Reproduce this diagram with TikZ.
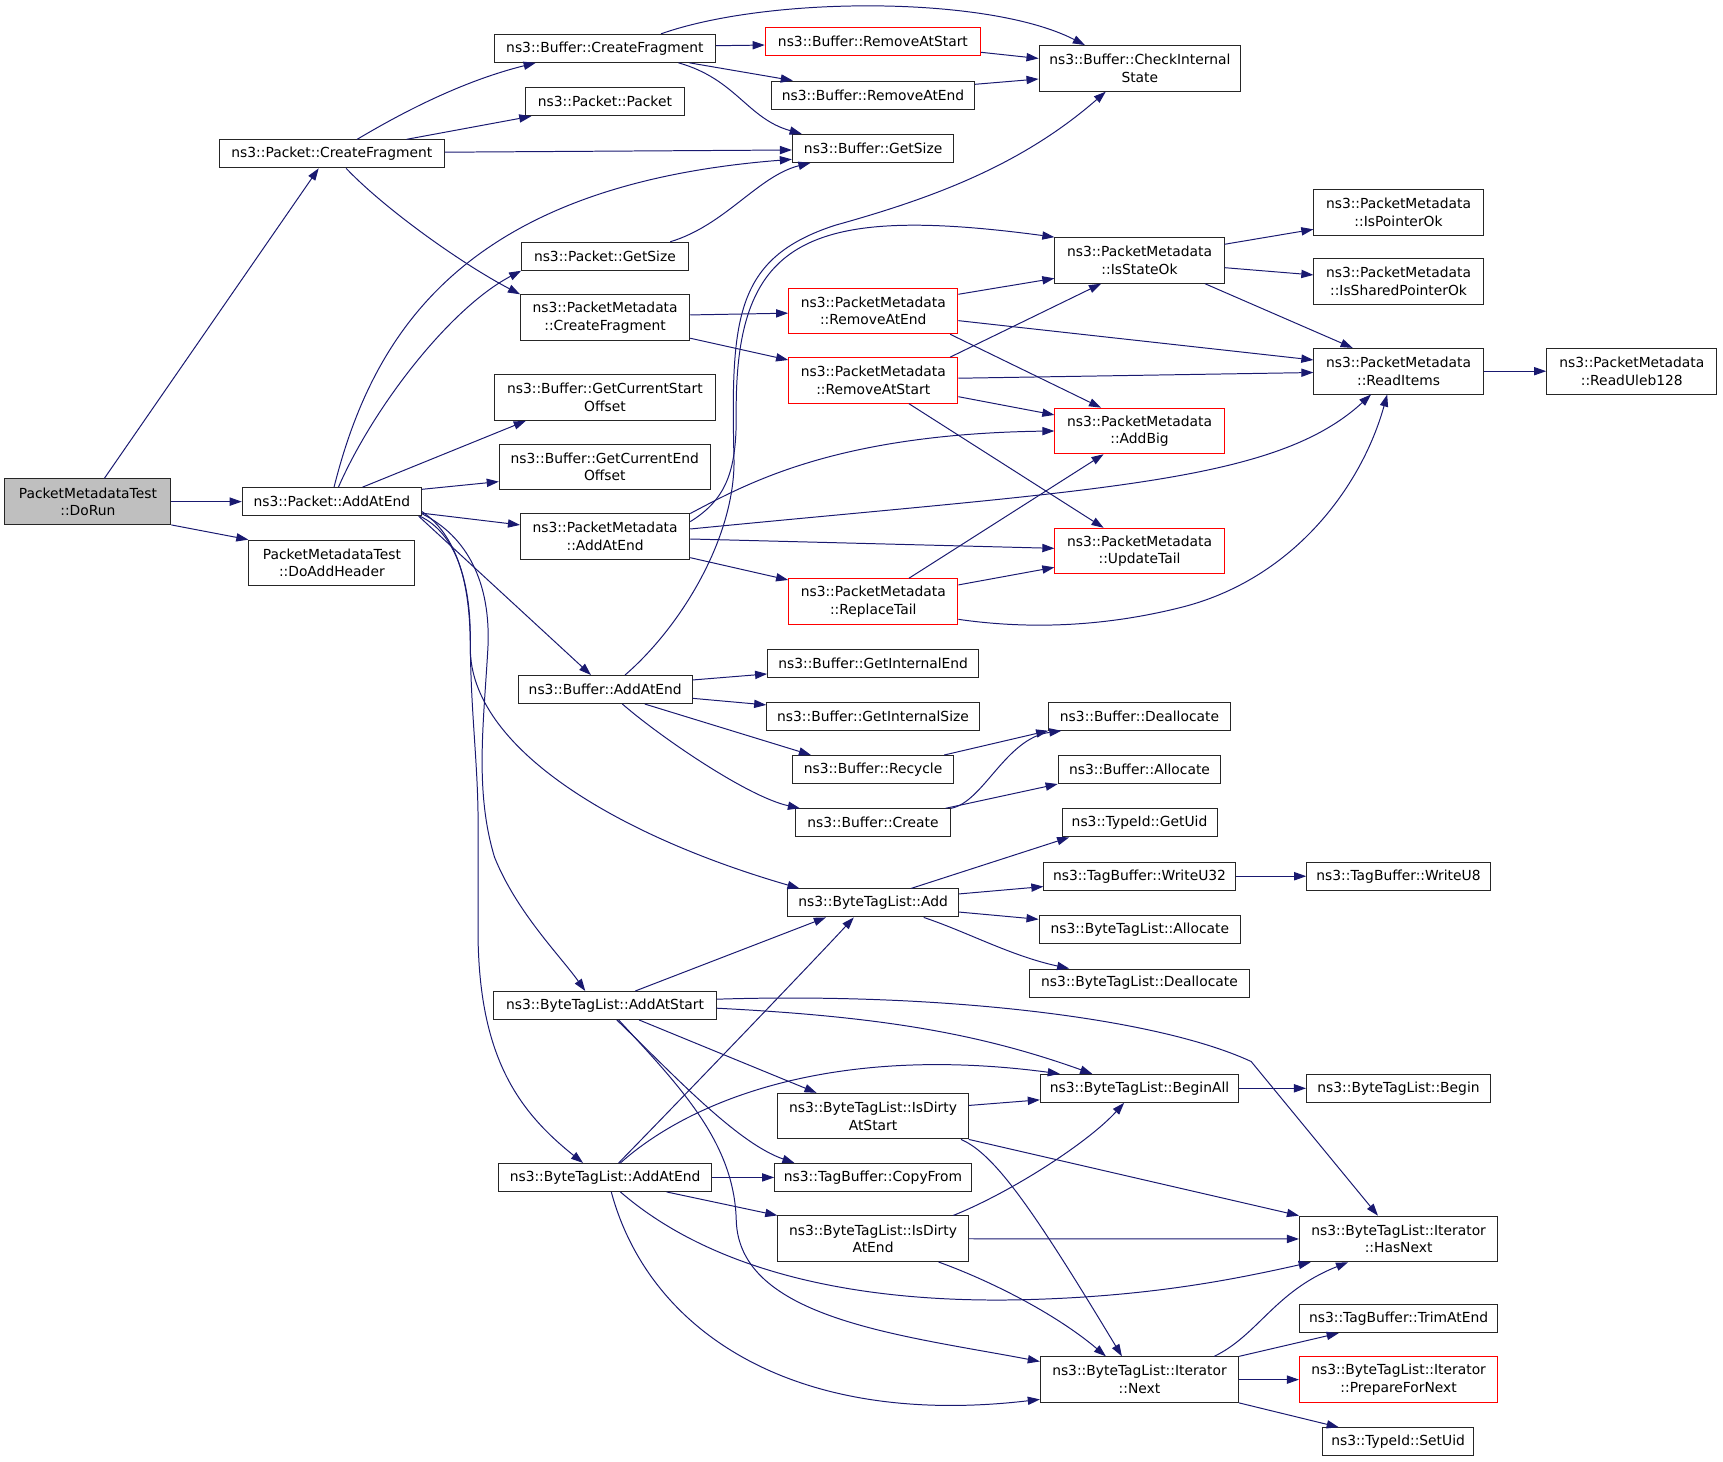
\documentclass[tikz,border=0pt]{standalone}
\usepackage{fontspec}
\setmainfont{DejaVu Sans}
\usetikzlibrary{arrows.meta}
\definecolor{edgeblue}{RGB}{25,25,112}
\definecolor{nodegray}{RGB}{191,191,191}
\tikzset{
  box/.style={draw=black!85, line width=0.9pt, fill=white, inner sep=0pt, align=center,
    font=\fontsize{12.6}{16}\selectfont, text=black},
  redbox/.style={box, draw=red},
  sz/.style 2 args={minimum width=#1pt, minimum height=#2pt},
  e/.style={draw=edgeblue, line width=0.9pt, -{Triangle[length=11pt,width=7.5pt]}},
}
\begin{document}
\begin{tikzpicture}[x=1pt,y=-1pt]
\useasboundingbox (0,0) rectangle (1568,1330);
% ---------------- nodes ----------------
\node[box,sz={151}{41.5},fill=nodegray] (dorun) at (80,456.5) {PacketMetadataTest\\::DoRun};
\node[box,sz={205}{25.5}] (pcf) at (302,140) {ns3::Packet::CreateFragment};
\node[box,sz={163}{25.5}] (paae) at (302,456.5) {ns3::Packet::AddAtEnd};
\node[box,sz={151}{41.5}] (dah) at (302,512.3) {PacketMetadataTest\\::DoAddHeader};
\node[box,sz={201}{25.5}] (bcf) at (550.5,44) {ns3::Buffer::CreateFragment};
\node[box,sz={145}{25.5}] (ppk) at (550.5,92.6) {ns3::Packet::Packet};
\node[redbox,sz={196}{25.5}] (brs) at (794.4,38) {ns3::Buffer::RemoveAtStart};
\node[box,sz={185}{25.5}] (brae) at (794.5,86.5) {ns3::Buffer::RemoveAtEnd};
\node[box,sz={183.4}{41.5}] (bcis) at (1037.3,62.2) {ns3::Buffer::CheckInternal\\State};
\node[box,sz={147}{25.5}] (bgs) at (794.6,135) {ns3::Buffer::GetSize};
\node[box,sz={151.5}{25.5}] (pgs) at (550.5,233.2) {ns3::Packet::GetSize};
\node[box,sz={154}{41.5}] (pmcf) at (550.7,289) {ns3::PacketMetadata\\::CreateFragment};
\node[redbox,sz={154}{41.5}] (pmrae) at (794.7,283) {ns3::PacketMetadata\\::RemoveAtEnd};
\node[redbox,sz={154}{41.5}] (pmras) at (794.7,346.2) {ns3::PacketMetadata\\::RemoveAtStart};
\node[box,sz={154}{41.5}] (pmiso) at (1037,237) {ns3::PacketMetadata\\::IsStateOk};
\node[box,sz={154}{41.5}] (pmipo) at (1272.7,193.3) {ns3::PacketMetadata\\::IsPointerOk};
\node[box,sz={154}{41.5}] (pmispo) at (1272.7,256) {ns3::PacketMetadata\\::IsSharedPointerOk};
\node[box,sz={154}{41.5}] (pmri) at (1272.7,337.8) {ns3::PacketMetadata\\::ReadItems};
\node[box,sz={155}{41.5}] (pmru) at (1485,337.8) {ns3::PacketMetadata\\::ReadUleb128};
\node[redbox,sz={154}{41.5}] (pmab) at (1037,392.2) {ns3::PacketMetadata\\::AddBig};
\node[box,sz={201}{41.5}] (bgcso) at (550.5,361.8) {ns3::Buffer::GetCurrentStart\\Offset};
\node[box,sz={192}{41.5}] (bgceo) at (550.4,425) {ns3::Buffer::GetCurrentEnd\\Offset};
\node[box,sz={154}{41.5}] (pmaae) at (550.7,488) {ns3::PacketMetadata\\::AddAtEnd};
\node[redbox,sz={154}{41.5}] (pmut) at (1037,501.5) {ns3::PacketMetadata\\::UpdateTail};
\node[redbox,sz={154}{41.5}] (pmrt) at (794.7,547.4) {ns3::PacketMetadata\\::ReplaceTail};
\node[box,sz={158}{25.5}] (baae) at (550.8,627.5) {ns3::Buffer::AddAtEnd};
\node[box,sz={192}{25.5}] (bgie) at (794.6,603.5) {ns3::Buffer::GetInternalEnd};
\node[box,sz={193.5}{25.5}] (bgis) at (794.5,652) {ns3::Buffer::GetInternalSize};
\node[box,sz={165.3}{25.5}] (bdea) at (1037,651.8) {ns3::Buffer::Deallocate};
\node[box,sz={147}{25.5}] (brec) at (794.5,700.3) {ns3::Buffer::Recycle};
\node[box,sz={148}{25.5}] (ball) at (1037,700.3) {ns3::Buffer::Allocate};
\node[box,sz={141}{25.5}] (bcre) at (794.5,748.8) {ns3::Buffer::Create};
\node[box,sz={141}{25.5}] (tgu) at (1037,748.8) {ns3::TypeId::GetUid};
\node[box,sz={174}{25.5}] (wu32) at (1037,797.4) {ns3::TagBuffer::WriteU32};
\node[box,sz={167}{25.5}] (wu8) at (1272.7,797.4) {ns3::TagBuffer::WriteU8};
\node[box,sz={155.5}{25.5}] (btadd) at (794.6,821.7) {ns3::ByteTagList::Add};
\node[box,sz={183.4}{25.5}] (btall) at (1037.3,845.8) {ns3::ByteTagList::Allocate};
\node[box,sz={200}{25.5}] (btdea) at (1037,894.6) {ns3::ByteTagList::Deallocate};
\node[box,sz={202.6}{25.5}] (btaas) at (550.6,915) {ns3::ByteTagList::AddAtStart};
\node[box,sz={180.5}{25.5}] (btba) at (1037,990.4) {ns3::ByteTagList::BeginAll};
\node[box,sz={167.4}{25.5}] (btb) at (1272.7,990.4) {ns3::ByteTagList::Begin};
\node[box,sz={173.3}{41.5}] (btidas) at (794.5,1015.7) {ns3::ByteTagList::IsDirty\\AtStart};
\node[box,sz={178.8}{25.5}] (tbcf) at (794.4,1071.5) {ns3::TagBuffer::CopyFrom};
\node[box,sz={193.2}{25.5}] (btaae) at (550.6,1071.5) {ns3::ByteTagList::AddAtEnd};
\node[box,sz={173.3}{41.5}] (btidae) at (794.5,1127.3) {ns3::ByteTagList::IsDirty\\AtEnd};
\node[box,sz={180.4}{41.5}] (bthn) at (1272.8,1127.5) {ns3::ByteTagList::Iterator\\::HasNext};
\node[box,sz={180}{25.5}] (tbtae) at (1272.8,1200) {ns3::TagBuffer::TrimAtEnd};
\node[box,sz={180.5}{41.5}] (btnext) at (1037,1255.5) {ns3::ByteTagList::Iterator\\::Next};
\node[redbox,sz={180.4}{41.5}] (btpfn) at (1272.8,1255.5) {ns3::ByteTagList::Iterator\\::PrepareForNext};
\node[box,sz={137.6}{25.5}] (tsu) at (1272.3,1312) {ns3::TypeId::SetUid};
% ---------------- edges ----------------
% DoRun
\draw[e] ([xshift=15pt]dorun.north) -- ([xshift=-12pt]pcf.south);
\draw[e] (dorun.east) -- (paae.west);
\draw[e] (dorun.south east) -- (dah.north west);
% Packet::CreateFragment
\draw[e] ([xshift=23pt]pcf.north) .. controls (365,103) and (420,74) .. ([xshift=-63pt]bcf.south);
\draw[e] ([xshift=68pt]pcf.north) -- ([xshift=-67pt]ppk.south);
\draw[e] ([yshift=1.5pt]pcf.east) -- ([yshift=-1.5pt]bgs.west);
\draw[e] ([xshift=13pt]pcf.south) .. controls (350,190) and (420,240) .. (pmcf.north west);
% Buffer::CreateFragment
\draw[e] ([yshift=2.4pt]bcf.east) -- ([yshift=-3pt]brs.west);
\draw[e] ([xshift=77pt]bcf.south) -- ([xshift=-73pt]brae.north);
\draw[e] ([xshift=67pt]bcf.south) .. controls (670,72) and (680,108) .. ([xshift=-65pt]bgs.north);
\draw[e] ([xshift=51pt]bcf.north) .. controls (700,-4) and (900,-4) .. ([xshift=-50pt]bcis.north);
\draw[e] ([yshift=-9.6pt]brs.east) -- ([yshift=9pt]bcis.west);
\draw[e] ([yshift=9.8pt]brae.east) -- ([yshift=-9.7pt]bcis.west);
% Packet::AddAtEnd
\draw[e] ([xshift=2pt]paae.north) .. controls (340,300) and (425,168) .. ([yshift=-10pt]bgs.west);
\draw[e] ([xshift=6pt]paae.north) .. controls (340,370) and (410,280) .. (pgs.south west);
\draw[e] ([xshift=28pt]paae.north) -- ([xshift=-72pt]bgcso.south);
\draw[e] ([yshift=-2pt]paae.north east) -- ([yshift=-13.3pt]bgceo.west);
\draw[e] ([yshift=-10.5pt]paae.east) -- ([yshift=10.3pt]pmaae.west);
\draw[e] ([xshift=-3pt]paae.south east) -- ([xshift=-13pt]baae.north);
\draw[e] ([yshift=-9pt]paae.east) .. controls (420,490) and (428,540) .. (428,590)
   .. controls (428,680) and (560,760) .. ([xshift=-67pt]btadd.north);
\draw[e] ([yshift=-11pt]paae.east) .. controls (425,488) and (447,530) .. (444,590)
   .. controls (440,660) and (432,720) .. (450,780)
   .. controls (470,830) and (510,870) .. ([xshift=-18pt]btaas.north);
\draw[e] ([xshift=-2pt]paae.south east) .. controls (415,485) and (428,530) .. (428,580)
   .. controls (428,650) and (436,700) .. (435,760) -- (435,850)
   .. controls (436,960) and (470,1010) .. ([xshift=-20pt]btaae.north);
% Packet::GetSize
\draw[e] ([xshift=59.5pt]pgs.north) .. controls (660,205) and (690,160) .. ([xshift=-57pt]bgs.south);
% PacketMetadata::CreateFragment
\draw[e] ([yshift=2.4pt]pmcf.east) -- ([yshift=-2pt]pmrae.west);
\draw[e] ([yshift=-18.8pt]pmcf.east) -- ([yshift=18.6pt]pmras.west);
% RemoveAtEnd
\draw[e] ([yshift=15.2pt]pmrae.east) -- ([yshift=-16.3pt]pmiso.west);
\draw[e] ([yshift=-8.8pt]pmrae.east) -- ([yshift=10.2pt]pmri.west);
\draw[e] ([xshift=70pt]pmrae.south) -- ([xshift=-35pt]pmab.north);
% RemoveAtStart
\draw[e] ([xshift=70pt]pmras.north) -- ([xshift=-35pt]pmiso.south);
\draw[e] ([yshift=2pt]pmras.east) -- ([yshift=-1.2pt]pmri.west);
\draw[e] ([yshift=-14.8pt]pmras.east) -- ([yshift=14.6pt]pmab.west);
\draw[e] ([xshift=32.5pt]pmras.south) -- ([xshift=-32.7pt]pmut.north);
% IsStateOk
\draw[e] ([yshift=14.7pt]pmiso.east) -- ([yshift=-15.4pt]pmipo.west);
\draw[e] ([yshift=-6.6pt]pmiso.east) -- ([yshift=5.8pt]pmispo.west);
\draw[e] ([xshift=59.6pt]pmiso.south) -- ([xshift=-41.7pt]pmri.north);
\draw[e] (pmri.east) -- (pmru.west);
% PacketMetadata::AddAtEnd
\draw[e] ([yshift=13.3pt]pmaae.east) .. controls (660,455) and (670,430) .. (670,380)
   .. controls (668,220) and (730,185) .. (pmiso.north west);
\draw[e] ([yshift=20.7pt]pmaae.east) .. controls (680,440) and (760,395) .. (pmab.west);
\draw[e] ([yshift=6.6pt]pmaae.east) .. controls (1000,445) and (1160,440) .. ([xshift=-25pt]pmri.south);
\draw[e] ([yshift=-2.5pt]pmaae.east) -- ([yshift=2.5pt]pmut.west);
\draw[e] ([yshift=-19.5pt]pmaae.east) -- ([yshift=19.6pt]pmrt.west);
% ReplaceTail
\draw[e] ([xshift=32.5pt]pmrt.north) -- ([xshift=-32.7pt]pmab.south);
\draw[e] ([yshift=15.1pt]pmrt.east) -- ([yshift=-14.8pt]pmut.west);
\draw[e] ([yshift=-16.2pt]pmrt.east) .. controls (930,572) and (1000,572) .. (1077.8,552)
   .. controls (1180,525) and (1240,440) .. ([xshift=-10.3pt]pmri.south);
% Buffer::AddAtEnd
\draw[e] ([xshift=18pt]baae.north) .. controls (620,570) and (668,490) .. (668,420)
   .. controls (665,290) and (668,235) .. (760,205)
   .. controls (850,180) and (930,150) .. ([xshift=-31pt]bcis.south);
\draw[e] ([yshift=8.7pt]baae.east) -- ([yshift=-9.8pt]bgie.west);
\draw[e] ([yshift=-8pt]baae.east) -- ([yshift=10.5pt]bgis.west);
\draw[e] ([xshift=36pt]baae.south) -- ([xshift=-56.5pt]brec.north);
\draw[e] ([xshift=15.6pt]baae.south) .. controls (600,670) and (680,725) .. ([xshift=-66.5pt]bcre.north);
% Recycle / Create
\draw[e] ([xshift=64.7pt]brec.north) -- (bdea.south west);
\draw[e] (bcre.north east) .. controls (895,730) and (915,672) .. ([xshift=12pt]bdea.south west);
\draw[e] ([xshift=-5pt]bcre.north east) -- (ball.south west);
% ByteTagList::Add
\draw[e] ([xshift=34.5pt]btadd.north) -- ([xshift=-64pt]tgu.south);
\draw[e] ([yshift=8.2pt]btadd.east) -- ([yshift=-9.4pt]wu32.west);
\draw[e] ([yshift=-8.3pt]btadd.east) -- ([yshift=9.2pt]btall.west);
\draw[e] ([xshift=46pt]btadd.south) .. controls (880,848) and (920,870) .. ([xshift=-64pt]btdea.north);
\draw[e] (wu32.east) -- (wu8.west);
% ByteTagList::AddAtStart
\draw[e] ([xshift=27.6pt]btaas.north) -- ([xshift=-43pt]btadd.south);
\draw[e] ([yshift=5.7pt]btaas.east) .. controls (850,903) and (1050,925) .. (1138.6,966)
   -- ([xshift=-18.8pt]bthn.north);
\draw[e] ([yshift=-2.5pt]btaas.east) .. controls (800,925) and (890,940) .. ([xshift=-43pt]btba.north);
\draw[e] ([xshift=31pt]btaas.south) -- ([xshift=-51.4pt]btidas.north);
\draw[e] ([xshift=10.7pt]btaas.south) .. controls (610,975) and (670,1040) .. ([xshift=-71.4pt]tbcf.north);
\draw[e] ([xshift=12.4pt]btaas.south) .. controls (620,990) and (668,1040) .. (670,1110)
   .. controls (672,1200) and (820,1215) .. ([yshift=16.5pt]btnext.west);
% ByteTagList::AddAtEnd
\draw[e] ([xshift=12.4pt]btaae.north) .. controls (620,1000) and (740,875) .. ([xshift=-17.6pt]btadd.south);
\draw[e] ([xshift=14pt]btaae.north) .. controls (630,1000) and (760,950) .. ([xshift=-72.5pt]btba.north);
\draw[e] (btaae.east) -- (tbcf.west);
\draw[e] ([xshift=56pt]btaae.south) -- (btidae.north west);
\draw[e] ([xshift=14pt]btaae.south) .. controls (640,1150) and (760,1185) .. (920,1183)
   .. controls (1040,1181) and (1120,1165) .. ([xshift=-80pt]bthn.south);
\draw[e] ([xshift=5.7pt]btaae.south) .. controls (590,1210) and (720,1300) .. ([yshift=-18pt]btnext.west);
% IsDirtyAtStart
\draw[e] ([yshift=9.7pt]btidas.east) -- ([yshift=-10.5pt]btba.west);
\draw[e] (btidas.south east) -- (bthn.north west);
\draw[e] ([xshift=80pt]btidas.south) .. controls (905,1050) and (940,1100) .. ([xshift=-16pt]btnext.north);
% IsDirtyAtEnd
\draw[e] ([xshift=73pt]btidae.north) .. controls (920,1085) and (990,1040) .. ([xshift=-14pt]btba.south);
\draw[e] (btidae.east) -- (bthn.west);
\draw[e] ([xshift=59.7pt]btidae.south) .. controls (900,1165) and (960,1195) .. ([xshift=-30.6pt]btnext.north);
% BeginAll
\draw[e] (btba.east) -- (btb.west);
% Iterator::Next
\draw[e] ([xshift=68pt]btnext.north) .. controls (1145,1215) and (1160,1175) .. ([xshift=-46pt]bthn.south);
\draw[e] (btnext.north east) -- ([xshift=-54.5pt]tbtae.south);
\draw[e] (btnext.east) -- (btpfn.west);
\draw[e] (btnext.south east) -- ([xshift=-54pt]tsu.north);
\end{tikzpicture}
\end{document}
